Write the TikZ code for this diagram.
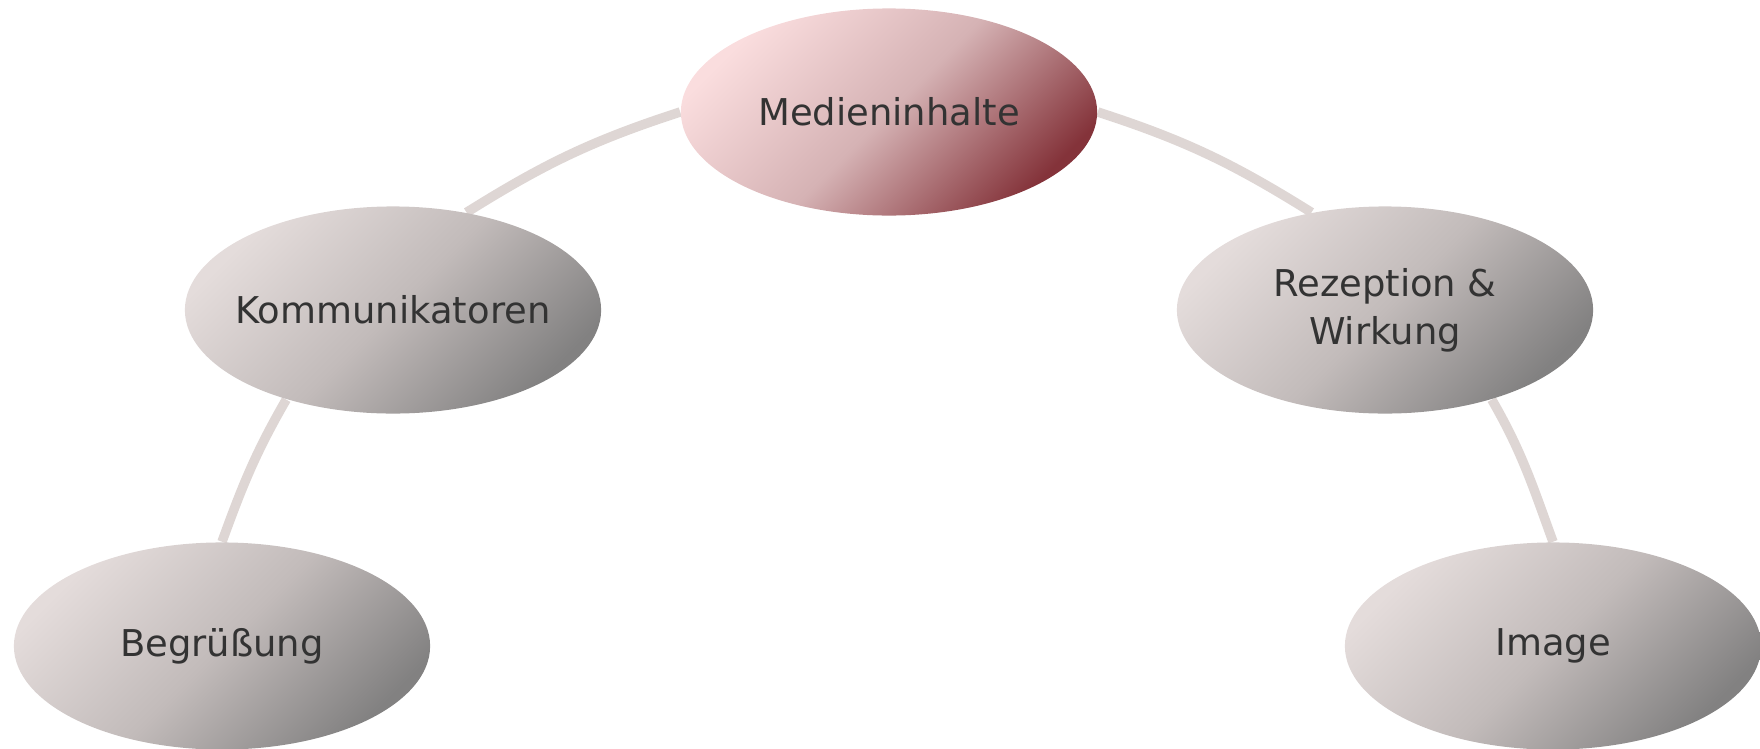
\documentclass[tikz,border=0pt]{standalone}
\usepackage{fontspec}
\setmainfont{DejaVu Sans}
\usetikzlibrary{shapes.geometric,backgrounds}
\definecolor{txt}{HTML}{333333}
\definecolor{lnk}{HTML}{DED6D4}
\definecolor{gtop}{HTML}{E4DCDB}
\definecolor{gmid}{HTML}{C2BBBA}
\definecolor{gbot}{HTML}{828181}
\definecolor{rtop}{HTML}{FADDDE}
\definecolor{rmid}{HTML}{D5B2B4}
\definecolor{rbot}{HTML}{84333A}
\tikzset{
  bub/.style={ellipse, minimum width=4.16cm, minimum height=2.07cm,
    inner xsep=-3cm, inner ysep=-1.5cm,
    text=txt, align=center, font=\fontsize{10.5}{13.7}\selectfont},
  graybub/.style={bub, top color=gtop, bottom color=gbot, middle color=gmid, shading angle=45},
  redbub/.style={bub, top color=rtop, bottom color=rbot, middle color=rmid, shading angle=45},
  link/.style={draw=lnk, line width=0.95mm}
}
\begin{document}
\begin{tikzpicture}[x=0.01cm, y=-0.01cm]
\useasboundingbox (0,0) rectangle (1760,748);
\node[redbub]  (M) at (889,112) {Medieninhalte};
\node[graybub] (K) at (393,310) {Kommunikatoren};
\node[graybub] (R) at (1385,310) {Rezeption \&\\Wirkung};
\node[graybub] (B) at (222,646) {Begrüßung};
\node[graybub] (I) at (1553,646) {Image};
\begin{scope}[on background layer]
\draw[link] (M.west) to[out=198, in=32] (K.53);
\draw[link] (K.220) to[out=240, in=70] (B.north);
\draw[link] (M.east) to[out=-18, in=148] (R.127);
\draw[link] (R.-40) to[out=-60, in=110] (I.north);
\end{scope}
\end{tikzpicture}
\end{document}
